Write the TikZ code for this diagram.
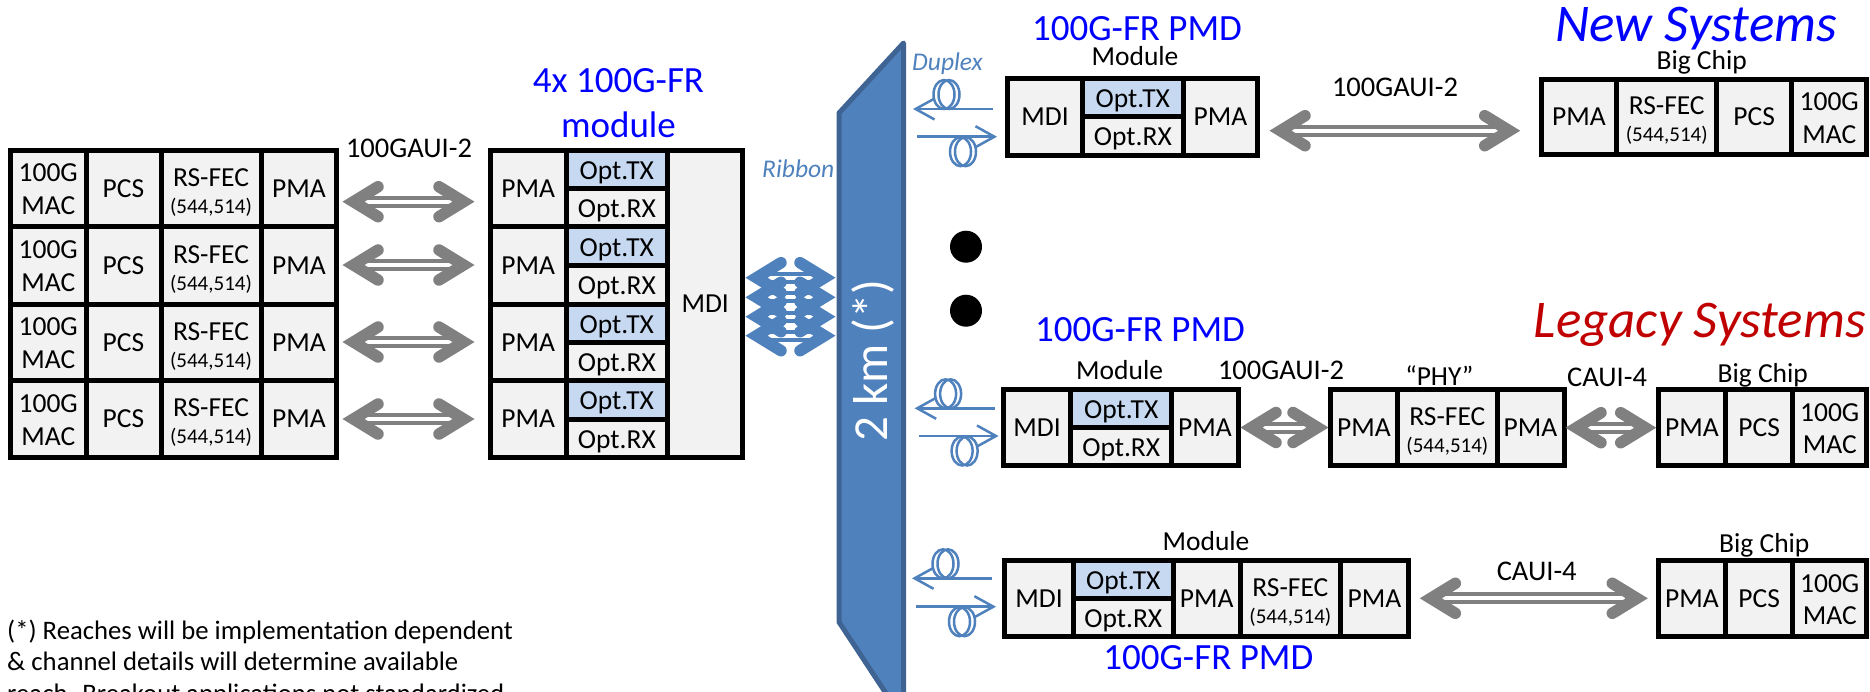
\documentclass[tikz,border=0pt]{standalone}
\usepackage{fontspec}
\setmainfont{Carlito}
\usetikzlibrary{calc,arrows.meta}
\definecolor{cellgray}{HTML}{F2F2F2}
\definecolor{txblue}{HTML}{C6D9F1}
\definecolor{fibreblue}{HTML}{4F81BD}
\definecolor{bardark}{HTML}{3F6493}
\definecolor{arrowgray}{HTML}{808080}
\definecolor{legacyred}{HTML}{C00000}
\tikzset{
  cellbox/.style={draw=black,line width=5,inner sep=0,outer sep=0,align=center,text=black,
     font=\fontsize{27.5}{32.7}\selectfont},
  graycell/.style={cellbox,fill=cellgray},
  maccell/.style={cellbox,fill=cellgray},
  optcell/.style={cellbox,fill=cellgray,text height=20,text depth=0},
  txcell/.style={cellbox,fill=txblue,text height=20,text depth=0},
  feccell/.style={cellbox,fill=cellgray,font=\fontsize{27.5}{26.7}\selectfont},
  label/.style={anchor=base,inner sep=0,font=\fontsize{28.5}{28.5}\selectfont},
  smalllabel/.style={anchor=base,inner sep=0,font=\fontsize{27.5}{27.5}\selectfont},
  title/.style={anchor=base,inner sep=0,text=blue,font=\fontsize{37}{37}\selectfont},
  system/.style={anchor=base,inner sep=0,font=\fontsize{53}{53}\selectfont\itshape},
  fibrelabel/.style={anchor=base,inner sep=0,text=fibreblue,font=\fontsize{25.5}{25.5}\selectfont\itshape},
  footnote/.style={anchor=base west,inner sep=0,font=\fontsize{26.7}{26.7}\selectfont},
  fibre/.style={draw=fibreblue,line width=2.5},
  fibrearrow/.style={fibre,-{Straight Barb[length=19,width=21,line width=2.5]}},
  wing/.style={line width=11.5,line cap=round,line join=miter,miter limit=20},
}
% name x0 y0 x1 y1 style text
\newcommand\cell[7]{\node[#6,minimum width={#4-#2},minimum height={#5-#3}] (#1) at ({(#2+#4)/2},{(#3+#5)/2}) {#7};}
\newcommand\fec{\rule{0pt}{25.7pt}RS-FEC\\{\fontsize{21}{26.7}\selectfont (544,514)}}
\newcommand\mac{\rule{0pt}{20pt}100G\\MAC}
% double arrow between two named coordinates, in two layers
\newcommand\shaftpart[3]{%
  \draw[#1,line width=12] ($(#2)+(12,0)$) -- ($(#3)+(-12,0)$);
  \draw[white,line width=4] ($(#2)+(23,0)$) -- ($(#3)+(-23,0)$);}
\newcommand\wingpart[3]{%
  \draw[#1,wing] ($(#2)+(36,-15)$) -- ($(#2)+(11.5,0)$) -- ($(#2)+(36,15)$);
  \draw[#1,wing] ($(#3)+(-36,-15)$) -- ($(#3)+(-11.5,0)$) -- ($(#3)+(-36,15)$);}
\newcommand\biarrow[2]{\shaftpart{arrowgray}{#1}{#2}\wingpart{arrowgray}{#1}{#2}}
\newcommand\coilat[2]{%
  \draw[fibre] ({#1-2.5},#2) ellipse [x radius=10.5,y radius=14.5];
  \draw[fibre] ({#1+2.5},#2) ellipse [x radius=10.5,y radius=14.5];}
% name, x of left tip, y of upper line, y of lower line
\newcommand\duplex[4]{%
  \coordinate (#1ta) at (#2,#3);
  \coordinate (#1tb) at ({#2+80},#3);
  \coordinate (#1ba) at ({#2+4},#4);
  \coordinate (#1bb) at ({#2+84},#4);
  \coilat{#2+33.5}{#3-14.5}
  \coilat{#2+50}{#4+15}
  \draw[fibrearrow] (#1tb) -- (#1ta);
  \draw[fibrearrow] (#1ba) -- (#1bb);}
% rows of the left host block
\newcommand\hostrow[3]{%
  \cell{h#1m}{10.5}{#2}{86}{#3}{maccell}{\mac}
  \cell{h#1c}{86}{#2}{161}{#3}{graycell}{PCS}
  \cell{h#1f}{161}{#2}{261}{#3}{feccell}{\fec}
  \cell{h#1p}{261}{#2}{336.7}{#3}{graycell}{PMA}}
% rows of the 4x module
\newcommand\modrow[4]{%
  \cell{m#1p}{490.5}{#2}{566}{#4}{graycell}{PMA}
  \cell{m#1t}{566}{#2}{667.7}{#3}{txcell}{Opt.TX}
  \cell{m#1r}{566}{#3}{667.7}{#4}{optcell}{Opt.RX}}
\begin{document}
\begin{tikzpicture}[x=1pt,y=-1pt]
\useasboundingbox (0,0) rectangle (1870,691);
\clip (0,0) rectangle (1870,691);

% ribbon
\coordinate (rl1) at (745,277.7); \coordinate (rr1) at (836,277.7);
\coordinate (rl2) at (745,297.3); \coordinate (rr2) at (836,297.3);
\coordinate (rl3) at (745,316.7); \coordinate (rr3) at (836,316.7);
\coordinate (rl4) at (745,335.7); \coordinate (rr4) at (836,335.7);
\shaftpart{fibreblue}{rl1}{rr1}
\shaftpart{fibreblue}{rl2}{rr2}
\shaftpart{fibreblue}{rl3}{rr3}
\shaftpart{fibreblue}{rl4}{rr4}
\wingpart{fibreblue}{rl1}{rr1}
\wingpart{fibreblue}{rl2}{rr2}
\wingpart{fibreblue}{rl3}{rr3}
\wingpart{fibreblue}{rl4}{rr4}

% left host
\hostrow{1}{150}{226.7}
\hostrow{2}{226.7}{304}
\hostrow{3}{304}{380.7}
\hostrow{4}{380.7}{457}
% 4x module
\modrow{1}{150}{188.3}{226.7}
\modrow{2}{226.7}{265.7}{304}
\modrow{3}{304}{342}{380.7}
\modrow{4}{380.7}{419}{457}
\cell{mdi}{667.7}{150}{742.7}{457}{graycell}{MDI}

\node[label] (l1) at (409,157) {100GAUI-2};
\node[title] (t1) at (618.5,92) {4x 100G-FR};
\node[title] (t2) at (618.5,137) {module};
\foreach \n/\y in {1/201.7,2/265,3/342,4/419}{
  \coordinate (al\n) at (342,\y);
  \coordinate (ar\n) at (475,\y);
  \biarrow{al\n}{ar\n}
}

% fibre bar
\draw[fill=fibreblue,draw=bardark,line width=5,line join=round]
  (839,113) -- (903.5,43) -- (903.5,720) -- (839,622) -- cycle;
\node[anchor=base,rotate=90,inner sep=0,text=white,font=\fontsize{49}{49}\selectfont] (km) at (887,360.5) {2 km (*)};
\node[fibrelabel,anchor=base west] (rib) at (762,177) {Ribbon};
\node[fibrelabel,anchor=base west] (dup) at (912,70) {Duplex};

% dots
\fill[black] (966,246.7) circle (16);
\fill[black] (966,310.7) circle (16);

% row 1
\duplex{a}{913}{109}{136.7}
\node[title] (t3) at (1137,40) {100G-FR PMD};
\node[smalllabel] (l2) at (1135,65) {Module};
\cell{a1}{1007.3}{78.5}{1082.7}{155}{graycell}{MDI}
\cell{a2}{1082.7}{78.5}{1183}{116.7}{txcell}{Opt.TX}
\cell{a3}{1082.7}{116.7}{1183}{155}{optcell}{Opt.RX}
\cell{a4}{1183}{78.5}{1257.7}{155}{graycell}{PMA}
\node[label] (l3) at (1395,96) {100GAUI-2};
\coordinate (x1) at (1269,130.7); \coordinate (x2) at (1520.7,130.7);
\biarrow{x1}{x2}
\node[system,text=blue,anchor=base east] (ns) at (1837,41.7) {New Systems};
\node[smalllabel] (l4) at (1701.7,69.3) {Big Chip};
\cell{b1}{1541}{79}{1616.7}{154.5}{graycell}{PMA}
\cell{b2}{1616.7}{79}{1716.7}{154.5}{feccell}{\fec}
\cell{b3}{1716.7}{79}{1791.7}{154.5}{graycell}{PCS}
\cell{b4}{1791.7}{79}{1866.7}{154.5}{maccell}{\mac}

% row 2 legacy
\duplex{c}{914.6}{408.3}{436}
\node[title] (t4) at (1140,341.7) {100G-FR PMD};
\node[smalllabel] (l5) at (1119.6,379) {Module};
\cell{c1}{1003.6}{389.5}{1070.7}{465.5}{graycell}{MDI}
\cell{c2}{1070.7}{389.5}{1171.8}{427.3}{txcell}{Opt.TX}
\cell{c3}{1070.7}{427.3}{1171.8}{465.5}{optcell}{Opt.RX}
\cell{c4}{1171.8}{389.5}{1238}{465.5}{graycell}{PMA}
\node[label] (l6) at (1281,379) {100GAUI-2};
\coordinate (x3) at (1240,427.5); \coordinate (x4) at (1329,427.5);
\biarrow{x3}{x4}
\node[smalllabel] (l7) at (1439.3,385) {“PHY”};
\cell{d1}{1330}{389.5}{1397.7}{465.5}{graycell}{PMA}
\cell{d2}{1397.7}{389.5}{1497}{465.5}{feccell}{\fec}
\cell{d3}{1497}{389.5}{1564}{465.5}{graycell}{PMA}
\node[label] (l8) at (1607,386) {CAUI-4};
\coordinate (x5) at (1565,427.7); \coordinate (x6) at (1656.7,427.7);
\biarrow{x5}{x6}
\node[system,text=legacyred,anchor=base east] (ls) at (1866,337) {Legacy Systems};
\node[smalllabel] (l9) at (1762.7,382.3) {Big Chip};
\cell{e1}{1658.3}{389.5}{1725.7}{465.5}{graycell}{PMA}
\cell{e2}{1725.7}{389.5}{1792.7}{465.5}{graycell}{PCS}
\cell{e3}{1792.7}{389.5}{1866.7}{465.5}{maccell}{\mac}

% row 3 legacy
\duplex{f}{912}{578.3}{606.7}
\node[smalllabel] (l10) at (1206,550) {Module};
\cell{f1}{1004.7}{560.5}{1073.3}{636.5}{graycell}{MDI}
\cell{f2}{1073.3}{560.5}{1173.3}{598.3}{txcell}{Opt.TX}
\cell{f3}{1073.3}{598.3}{1173.3}{636.5}{optcell}{Opt.RX}
\cell{f4}{1173.3}{560.5}{1240}{636.5}{graycell}{PMA}
\cell{f5}{1240}{560.5}{1340.7}{636.5}{feccell}{\fec}
\cell{f6}{1340.7}{560.5}{1408}{636.5}{graycell}{PMA}
\node[title] (t5) at (1208.3,669) {100G-FR PMD};
\node[label] (l11) at (1536.7,580) {CAUI-4};
\coordinate (x7) at (1419.3,598.3); \coordinate (x8) at (1648.3,598.3);
\biarrow{x7}{x8}
\node[smalllabel] (l12) at (1764.3,552.7) {Big Chip};
\cell{g1}{1658.3}{560.5}{1725.7}{636.5}{graycell}{PMA}
\cell{g2}{1725.7}{560.5}{1792.7}{636.5}{graycell}{PCS}
\cell{g3}{1792.7}{560.5}{1866.7}{636.5}{maccell}{\mac}

% footnote
\node[footnote] (n1) at (7,639.3) {(*) Reaches will be implementation dependent};
\node[footnote] (n2) at (7,670.7) {\& channel details will determine available};
\node[footnote] (n3) at (7,702) {reach. Breakout applications not standardized};
\end{tikzpicture}
\end{document}
